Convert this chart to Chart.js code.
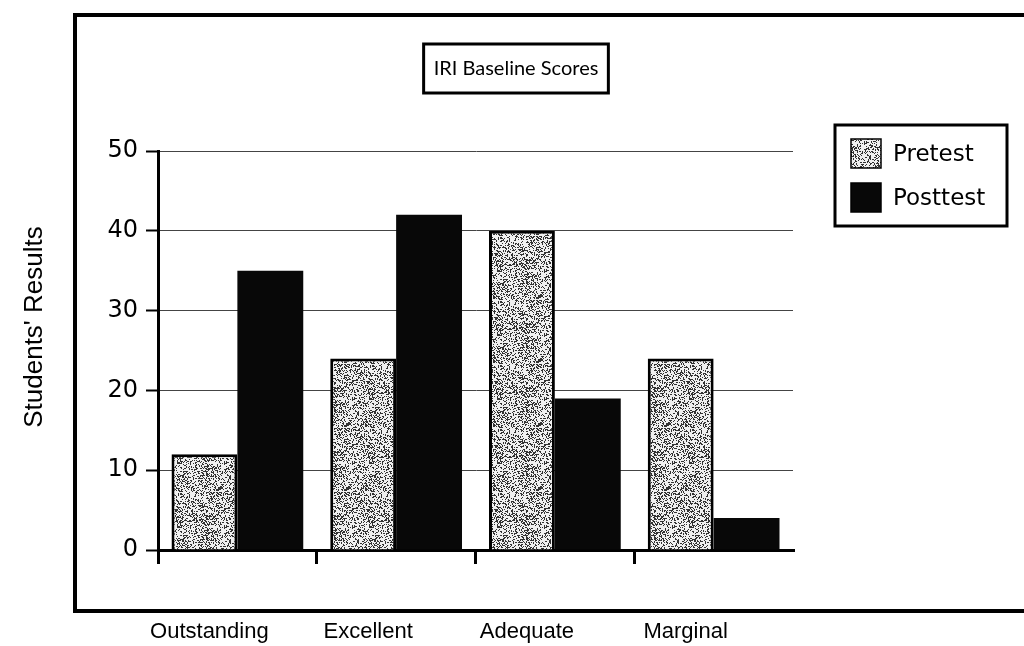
<!DOCTYPE html>
<html>
<head>
<meta charset="utf-8">
<script src="https://cdn.jsdelivr.net/npm/chart.js@4.4.0/dist/chart.umd.min.js"></script>
<style>
    html, body { margin: 0; padding: 0; background: #fff; }
</style>
</head>
<body>
<canvas id="iriChart" width="1024" height="646"></canvas>
<script>
const categories = ['Outstanding', 'Excellent', 'Adequate', 'Marginal'];
const pretest = [12, 24, 40, 24];
const posttest = [35, 42, 19, 4];
const yTicks = [0, 10, 20, 30, 40, 50];
const chartTitle = 'IRI Baseline Scores';
const yTitle = "Students' Results";

// grey stipple fill like the scanned pretest bars
function speckle() {
    const c = document.createElement('canvas');
    c.width = 64; c.height = 64;
    const g = c.getContext('2d');
    const img = g.createImageData(64, 64);
    let s = 12345;
    for (let i = 0; i < 64 * 64; i++) {
        s = (s * 1103515245 + 12345) & 0x7fffffff;
        const v = ((s >> 8) % 100) < 34 ? 50 : 240;
        img.data[i * 4] = img.data[i * 4 + 1] = img.data[i * 4 + 2] = v;
        img.data[i * 4 + 3] = 255;
    }
    g.putImageData(img, 0, 0);
    return g.createPattern(c, 'repeat');
}

const ctx = document.getElementById('iriChart').getContext('2d');
const stipple = speckle();

// outer frame, boxed title, y title and boxed legend
const framePlugin = {
    id: 'frame',
    beforeDraw(chart) {
        const c = chart.ctx;
        c.save();
        c.strokeStyle = '#000';
        c.lineWidth = 4;
        c.strokeRect(75, 15, 980, 596);
        c.restore();
    },
    afterDraw(chart) {
        const c = chart.ctx;
        c.save();
        // title
        c.font = '20px Lato';
        c.fillStyle = '#000';
        c.textBaseline = 'middle';
        const w = c.measureText(chartTitle).width;
        const cx = 516;
        c.lineWidth = 3;
        c.strokeStyle = '#000';
        c.strokeRect(cx - w / 2 - 10, 44, w + 20, 49);
        c.textAlign = 'center';
        c.fillText(chartTitle, cx, 69);
        // y axis title, sits outside the frame
        c.save();
        c.translate(35, 327);
        c.rotate(-Math.PI / 2);
        c.font = '26px "Liberation Sans", Arial';
        c.fillText(yTitle, 0, 0);
        c.restore();
        // legend
        c.strokeRect(835, 125, 172, 101);
        c.textAlign = 'left';
        c.font = '23px "DejaVu Sans"';
        chart.data.datasets.forEach(function (ds, i) {
            const y = 139 + i * 44;
            c.fillStyle = ds.backgroundColor;
            c.fillRect(851, y, 30, 29);
            c.lineWidth = 1.5;
            c.strokeRect(851, y, 30, 29);
            c.fillStyle = '#000';
            c.fillText(ds.label, 893, y + 16);
        });
        c.restore();
    }
};

new Chart(ctx, {
    type: 'bar',
    data: {
        labels: categories,
        datasets: [{
            label: 'Pretest',
            data: pretest,
            backgroundColor: stipple,
            borderColor: '#000',
            borderWidth: 3,
            borderSkipped: 'bottom'
        }, {
            label: 'Posttest',
            data: posttest,
            backgroundColor: '#080808',
            borderWidth: 0
        }]
    },
    options: {
        responsive: false,
        animation: false,
        devicePixelRatio: 1,
        layout: {padding: {left: 17, top: 151, right: 231, bottom: 0}},
        plugins: {legend: {display: false}, title: {display: false}, tooltip: {enabled: false}},
        datasets: {bar: {categoryPercentage: 0.83, barPercentage: 1.0}},
        scales: {
            x: {
                offset: true,
                afterFit: function (scale) { scale.height = 96; },
                grid: {
                    offset: true,
                    drawOnChartArea: false,
                    drawTicks: true,
                    tickLength: 14,
                    lineWidth: 3,
                    color: function (c) {
                        return (c.index === undefined || c.index >= categories.length) ? 'rgba(0,0,0,0)' : '#000';
                    }
                },
                border: {display: true, color: '#000', width: 3},
                ticks: {
                    color: '#000',
                    padding: 55,
                    labelOffset: -28,
                    font: {family: '"Liberation Sans", Arial', size: 22}
                }
            },
            y: {
                min: 0,
                max: 50,
                afterBuildTicks: function (scale) {
                    scale.ticks = yTicks.map(function (v) { return {value: v}; });
                },
                afterFit: function (scale) { scale.width = 141; },
                grid: {
                    color: '#444',
                    lineWidth: 1,
                    tickColor: '#000',
                    tickLength: 12,
                    tickWidth: 2
                },
                border: {display: true, color: '#000', width: 3},
                ticks: {
                    color: '#000',
                    padding: 8,
                    font: {family: '"DejaVu Sans"', size: 24}
                }
            }
        }
    },
    plugins: [framePlugin]
});
</script>
</body>
</html>
